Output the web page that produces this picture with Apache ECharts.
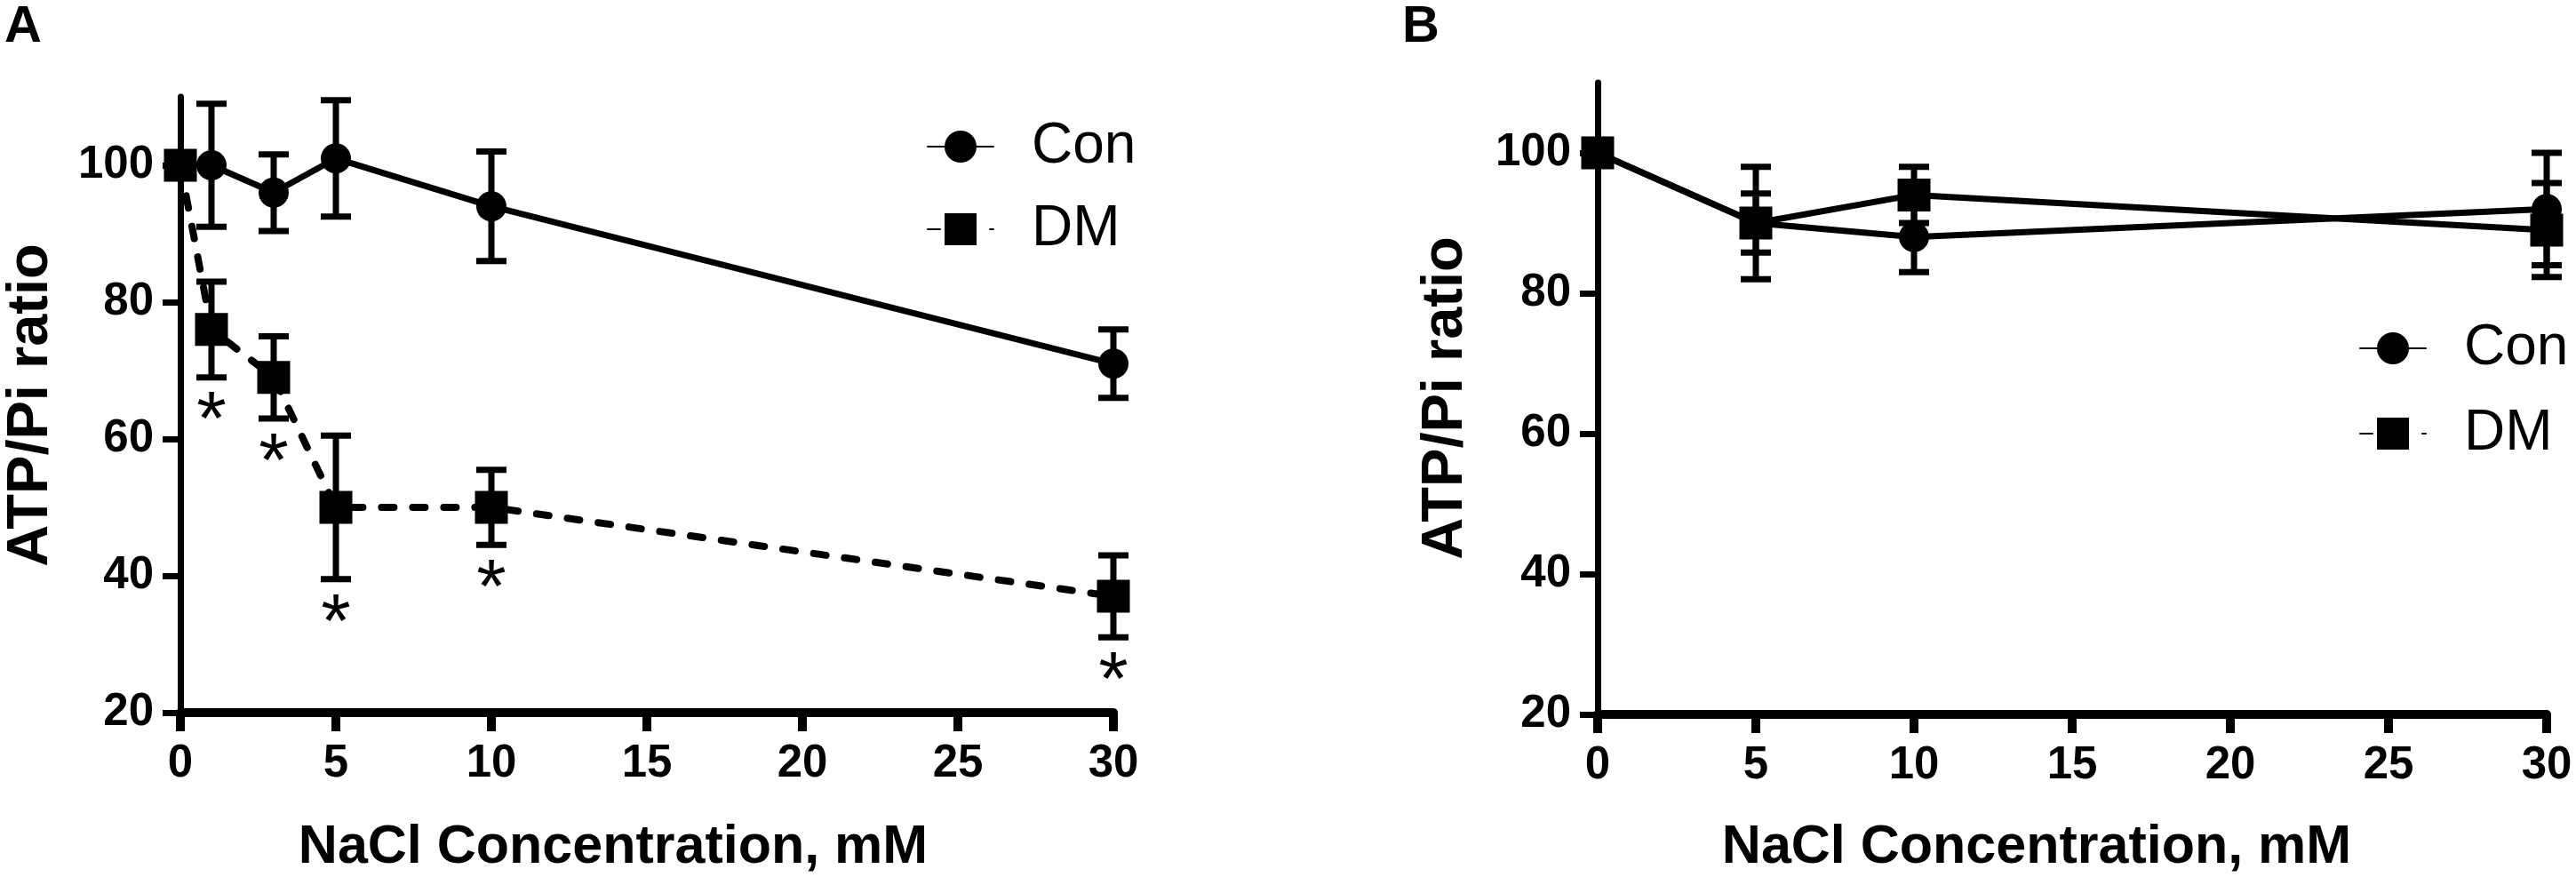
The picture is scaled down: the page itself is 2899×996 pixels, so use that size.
<!DOCTYPE html>
<html>
<head>
<meta charset="utf-8">
<title></title>
<script type="text/javascript" src="https://cdn.jsdelivr.net/npm/echarts@6/dist/echarts.min.js"></script>
<style>
  html, body { margin: 0; padding: 0; background: #fff; }
</style>
</head>
<body>

<div id="main" style="width: 2899px;height:996px;"></div>

<script type="text/javascript">

// panel A : NaCl 0..30 mM
let A_X = [0, 1, 3, 5, 10, 30];
let A_CON = [100, 100, 96, 101, 94, 71];
let A_CON_ERR = [0, 9, 5.6, 8.5, 8, 5];
let A_DM = [100, 76, 69, 50, 50, 37];
let A_DM_ERR = [0, 7, 6, 10.5, 5.5, 6];
let A_DM_STAR = [0, 1, 1, 1, 1, 1];

// panel B : NaCl 0..30 mM
let B_X = [0, 5, 10, 30];
let B_CON = [100, 90, 88, 92];
let B_CON_ERR = [0, 8, 5, 8];
let B_DM = [100, 90, 94, 89];
let B_DM_ERR = [0, 4.2, 4, 6.7];

let Y_TICKS = [20, 40, 60, 80, 100];

const SANS = '"Liberation Sans", Arial, sans-serif';

function pts(xs, ys){
	return xs.map((x, i) => [x, ys[i]]);
}
function errPts(xs, ys, es, stars){
	return xs.map((x, i) => [x, ys[i], es[i], stars ? stars[i] : 0]);
}

function renderErr(params, api){
	let x = api.value(0), m = api.value(1), e = api.value(2), star = api.value(3);
	let hi = api.coord([x, m + e]);
	let lo = api.coord([x, m - e]);
	let half = 17;
	let st = { stroke: '#000', lineWidth: 7, fill: null };
	let kids = [];
	if(e > 0){
		kids.push({ type: 'line', shape: { x1: hi[0], y1: hi[1], x2: lo[0], y2: lo[1] }, style: st });
		kids.push({ type: 'line', shape: { x1: hi[0] - half, y1: hi[1], x2: hi[0] + half, y2: hi[1] }, style: st });
		kids.push({ type: 'line', shape: { x1: lo[0] - half, y1: lo[1], x2: lo[0] + half, y2: lo[1] }, style: st });
	}
	if(star){
		kids.push({
			type: 'text', x: lo[0], y: lo[1] + 52,
			style: { text: '*', fontSize: 86, fontFamily: SANS, fill: '#000', textAlign: 'center', textVerticalAlign: 'middle' }
		});
	}
	return { type: 'group', children: kids };
}

function xAxisOf(idx){
	return {
		type: 'value', gridIndex: idx, min: 0, max: 30, interval: 5,
		axisLine: { lineStyle: { color: '#000', width: 10 } },
		axisTick: { length: 21, lineStyle: { color: '#000', width: 10 } },
		axisLabel: { color: '#000', fontSize: 51, fontWeight: 'bold', fontFamily: SANS, margin: 32 },
		splitLine: { show: false }
	};
}
function yAxisOf(idx){
	return {
		type: 'value', gridIndex: idx, min: 20, max: 110, interval: 20,
		axisLine: { show: true, lineStyle: { color: '#000', width: 7 } },
		axisTick: { show: true, length: 20, lineStyle: { color: '#000', width: 7 },
			customValues: Y_TICKS },
		axisLabel: { color: '#000', fontSize: 51, fontWeight: 'bold', fontFamily: SANS, margin: 30,
			customValues: Y_TICKS },
		splitLine: { show: false }
	};
}

function lineSeries(name, idx, data, symbol, size, dashed){
	return {
		name: name, type: 'line', xAxisIndex: idx, yAxisIndex: idx,
		data: data, symbol: symbol, symbolSize: size,
		itemStyle: { color: '#000' },
		lineStyle: { color: '#000', width: dashed ? 8 : 7, type: dashed ? [14, 21] : 'solid', cap: 'round' },
		z: symbol === 'rect' ? 4 : 3,
		clip: false
	};
}
function errSeries(idx, data){
	return {
		type: 'custom', xAxisIndex: idx, yAxisIndex: idx,
		renderItem: renderErr, data: data, z: 2, clip: false
	};
}

let myChart = echarts.init(document.getElementById('main'));

let option = {
	animation: false,
	backgroundColor: '#fff',
	grid: [
		{ left: 203, width: 1050, top: 109, height: 693 },
		{ left: 1798, width: 1068, top: 93, height: 711 }
	],
	xAxis: [xAxisOf(0), xAxisOf(1)],
	yAxis: [yAxisOf(0), yAxisOf(1)],
	legend: [
		{
			left: 1038, top: 128, orient: 'vertical', itemWidth: 74, itemHeight: 45, itemGap: 29,
			data: ['Con', 'DM'],
			textStyle: { color: '#000', fontSize: 64, fontFamily: SANS, padding: [0, 0, 0, 38] },
			selectedMode: false
		},
		{
			left: 2650, top: 355, orient: 'vertical', itemWidth: 74, itemHeight: 45, itemGap: 32,
			data: ['Con', 'DM'],
			textStyle: { color: '#000', fontSize: 64, fontFamily: SANS, padding: [0, 0, 0, 38] },
			selectedMode: false
		}
	],
	series: [
		lineSeries('Con', 0, pts(A_X, A_CON), 'circle', 34, false),
		lineSeries('DM', 0, pts(A_X, A_DM), 'rect', 37, true),
		errSeries(0, errPts(A_X, A_CON, A_CON_ERR)),
		errSeries(0, errPts(A_X, A_DM, A_DM_ERR, A_DM_STAR)),
		lineSeries('Con', 1, pts(B_X, B_CON), 'circle', 34, false),
		lineSeries('DM', 1, pts(B_X, B_DM), 'rect', 37, false),
		errSeries(1, errPts(B_X, B_CON, B_CON_ERR)),
		errSeries(1, errPts(B_X, B_DM, B_DM_ERR))
	],
	graphic: [
		{ type: 'text', left: 5, top: 2, style: { text: 'A', font: 'bold 58px ' + SANS, fill: '#000' } },
		{ type: 'text', left: 1578, top: 2, style: { text: 'B', font: 'bold 58px ' + SANS, fill: '#000' } },
		{ type: 'text', x: 35, y: 456, rotation: Math.PI / 2,
			style: { text: 'ATP/Pi ratio', font: 'bold 65px ' + SANS, fill: '#000', textAlign: 'center', textVerticalAlign: 'middle' } },
		{ type: 'text', x: 1627, y: 448, rotation: Math.PI / 2,
			style: { text: 'ATP/Pi ratio', font: 'bold 65px ' + SANS, fill: '#000', textAlign: 'center', textVerticalAlign: 'middle' } },
		{ type: 'text', x: 690, y: 954,
			style: { text: 'NaCl Concentration, mM', font: 'bold 61px ' + SANS, fill: '#000', textAlign: 'center', textVerticalAlign: 'middle' } },
		{ type: 'text', x: 2292, y: 954,
			style: { text: 'NaCl Concentration, mM', font: 'bold 61px ' + SANS, fill: '#000', textAlign: 'center', textVerticalAlign: 'middle' } }
	]
};

myChart.setOption(option);

</script>

</body>
</html>
